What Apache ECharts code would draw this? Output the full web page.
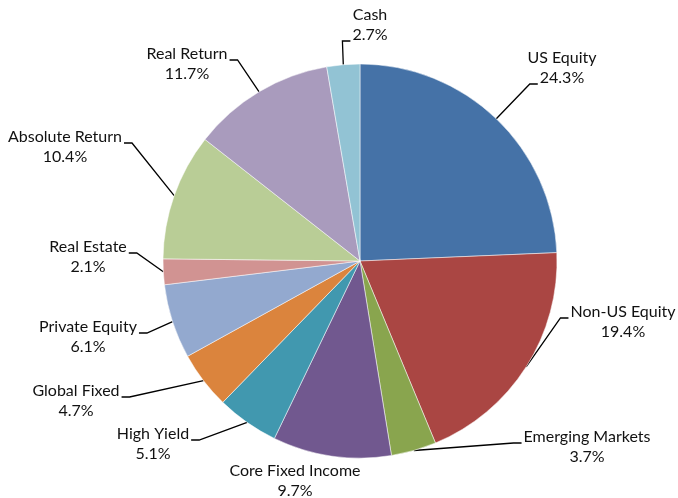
<!DOCTYPE html>
<html>
<head>
<meta charset="utf-8">
<script src="https://cdn.jsdelivr.net/npm/echarts@6/dist/echarts.min.js"></script>
<style>
  html, body { margin: 0; padding: 0; background: #fff; }
  #chart { width: 678px; height: 498px; }
</style>
</head>
<body>
<div id="chart"></div>
<script>
  // categories and values (percent), clockwise from 12 o'clock
  var categories = ['US Equity', 'Non-US Equity', 'Emerging Markets', 'Core Fixed Income', 'High Yield',
    'Global Fixed', 'Private Equity', 'Real Estate', 'Absolute Return', 'Real Return', 'Cash'];
  var values = [24.3, 19.4, 3.7, 9.7, 5.1, 4.7, 6.1, 2.1, 10.4, 11.7, 2.7];
  var colors = ['#4572a7', '#aa4643', '#89a54e', '#71588f', '#4198af', '#db843d',
    '#93a9cf', '#d19392', '#b9cd96', '#a99bbd', '#92c3d4'];

  // where each label block sits (centre, px), like the hand-placed labels of the original
  var labelCenters = [[562, 68], [623, 322], [587, 447], [295, 481], [153, 444],
    [76, 401], [88, 337], [88, 257], [65, 147], [187, 64], [370, 25]];

  var FONT_SIZE = 16;
  var LINE_H = 20;
  var FONT = 'Lato';

  var ctx = document.createElement('canvas').getContext('2d');
  ctx.font = FONT_SIZE + 'px ' + FONT;
  function textWidth(s) { return ctx.measureText(s).width; }

  function labelText(i) {
    return [categories[i], values[i].toFixed(1) + '%'];
  }

  var chart = echarts.init(document.getElementById('chart'));

  var data = [];
  for (var i = 0; i < categories.length; i++) {
    data.push({ name: categories[i], value: values[i], itemStyle: { color: colors[i] } });
  }

  // leader line: from the slice edge to the nearer text row, ending with a short horizontal piece
  function layoutLabel(params) {
    var i = params.dataIndex;
    var c = labelCenters[i];
    var start = params.labelLinePoints ? params.labelLinePoints[0] : null;
    var res = { x: c[0], y: c[1], align: 'center', verticalAlign: 'middle' };
    if (!start) return res;
    var rows = labelText(i);
    var top = c[1] - LINE_H;
    var best = null;
    for (var r = 0; r < 2; r++) {
      var w = textWidth(rows[r]);
      var yb = top + r * LINE_H + LINE_H / 2 + 6;
      var left = c[0] - w / 2 - 2, right = c[0] + w / 2 + 2;
      var px = start[0] < c[0] ? left : right;
      var d = Math.hypot(px - start[0], yb - start[1]);
      if (!best || d < best.d) best = { x: px, y: yb, d: d };
    }
    var halfW = Math.max(textWidth(rows[0]), textWidth(rows[1])) / 2;
    var nearBox = start[0] > c[0] - halfW && start[0] < c[0] + halfW &&
      start[1] > top - 14 && start[1] < top + 2 * LINE_H + 14;
    if (nearBox) {
      res.labelLinePoints = [start, start, start];
      return res;
    }
    var dir = start[0] < best.x ? -1 : 1;
    var elbow = [best.x + dir * 8, best.y];
    res.labelLinePoints = [start, elbow, [best.x, best.y]];
    return res;
  }

  var option = {
    animation: false,
    series: [{
      type: 'pie',
      center: [360, 261],
      radius: [0, 197],
      startAngle: 90,
      clockwise: true,
      avoidLabelOverlap: false,
      itemStyle: { borderColor: '#fff', borderWidth: 0.5 },
      label: {
        show: true,
        position: 'outside',
        formatter: function (p) { return labelText(p.dataIndex).join('\n'); },
        fontFamily: FONT,
        fontSize: FONT_SIZE,
        lineHeight: LINE_H,
        color: '#111'
      },
      labelLine: {
        show: true,
        length: 20,
        length2: 8,
        lineStyle: { color: '#000', width: 1.3 }
      },
      labelLayout: layoutLabel,
      data: data
    }]
  };

  chart.setOption(option);
</script>
</body>
</html>
